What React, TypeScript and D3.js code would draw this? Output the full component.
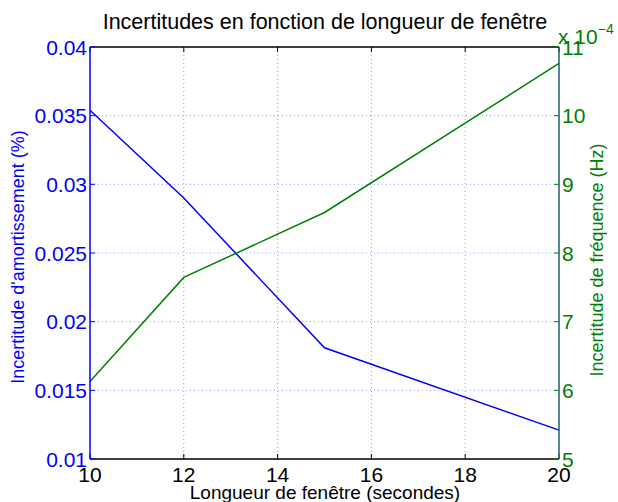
import React from "react";
import * as d3 from "d3";

const windowLengths = [10, 12, 15, 20];
const dampingUncertainty = [0.0354, 0.029, 0.0181, 0.0121];
const freqUncertainty = [6.13, 7.645, 8.59, 10.76];

const xTicks = [10, 12, 14, 16, 18, 20];
const leftTicks = [0.01, 0.015, 0.02, 0.025, 0.03, 0.035, 0.04];
const leftTickLabels = ["0.01", "0.015", "0.02", "0.025", "0.03", "0.035", "0.04"];
const rightTicks = [5, 6, 7, 8, 9, 10, 11];

const W = 618;
const H = 502;
const L = 90, R = 559, T = 47, B = 459;
const FONT = "'Liberation Sans', Arial, Helvetica, sans-serif";
const BLUE = "#0000ff";
const GREEN = "#008000";
const RAXIS = "#1d5b7a";

export default function App() {
  const x = d3.scaleLinear().domain([10, 20]).range([L, R]);
  const yl = d3.scaleLinear().domain([0.01, 0.04]).range([B, T]);
  const yr = d3.scaleLinear().domain([5, 11]).range([B, T]);

  const lineL = d3.line<number>().x((_, i) => x(windowLengths[i])).y((d) => yl(d));
  const lineR = d3.line<number>().x((_, i) => x(windowLengths[i])).y((d) => yr(d));

  return (
    <svg width={W} height={H} style={{ position: "absolute", left: 0, top: 0, background: "#fff" }}>
      <rect x={0} y={0} width={W} height={H} fill="#fff" />
      {/* vertical grid */}
      {xTicks.slice(1, -1).map((t) => (
        <line key={"gx" + t} x1={x(t)} x2={x(t)} y1={T} y2={B} stroke="#a0a0a0" strokeWidth={1} strokeDasharray="1,3" />
      ))}
      {/* horizontal grid */}
      {leftTicks.slice(1, -1).map((t) => (
        <line key={"gy" + t} x1={L} x2={R} y1={yl(t)} y2={yl(t)} stroke="#9a9aff" strokeWidth={1} strokeDasharray="1,3" />
      ))}
      {/* data */}
      <path d={lineL(dampingUncertainty) || ""} fill="none" stroke={BLUE} strokeWidth={1.5} />
      <path d={lineR(freqUncertainty) || ""} fill="none" stroke={GREEN} strokeWidth={1.5} />
      {/* box */}
      <line x1={L} x2={R} y1={T} y2={T} stroke="#000" strokeWidth={1.5} />
      <line x1={L} x2={R} y1={B} y2={B} stroke="#000" strokeWidth={1.5} />
      {/* x ticks */}
      {xTicks.map((t) => (
        <g key={"xt" + t}>
          <line x1={x(t)} x2={x(t)} y1={B} y2={B - 5} stroke="#000" strokeWidth={1} />
          <line x1={x(t)} x2={x(t)} y1={T} y2={T + 5} stroke="#000" strokeWidth={1} />
          <text x={x(t)} y={482} textAnchor="middle" fontFamily={FONT} fontSize={21} fill="#000">
            {t}
          </text>
        </g>
      ))}
      {/* left axis */}
      <line x1={L} x2={L} y1={T} y2={B} stroke={BLUE} strokeWidth={1.5} />
      {leftTicks.map((t, i) => (
        <g key={"lt" + t}>
          <line x1={L} x2={L + 5} y1={yl(t)} y2={yl(t)} stroke={BLUE} strokeWidth={1} />
          <text x={L - 3} y={yl(t) + 7.5} textAnchor="end" fontFamily={FONT} fontSize={21} fill={BLUE}>
            {leftTickLabels[i]}
          </text>
        </g>
      ))}
      {/* right axis */}
      <line x1={R} x2={R} y1={T} y2={B} stroke={RAXIS} strokeWidth={1.5} />
      {rightTicks.map((t) => (
        <g key={"rt" + t}>
          <line x1={R} x2={R - 5} y1={yr(t)} y2={yr(t)} stroke={GREEN} strokeWidth={1} />
          <text x={R + 3} y={yr(t) + 7.5} textAnchor="start" fontFamily={FONT} fontSize={21} fill={GREEN}>
            {t}
          </text>
        </g>
      ))}
      <text x={558} y={44} fontFamily={FONT} fontSize={21} fill={GREEN}>
        x 10
        <tspan dy={-10} fontSize={14}>−4</tspan>
      </text>
      {/* title */}
      <text x={325} y={29} textAnchor="middle" fontFamily={FONT} fontSize={21.5} fill="#000">
        Incertitudes en fonction de longueur de fenêtre
      </text>
      {/* x label */}
      <text x={325} y={499} textAnchor="middle" fontFamily={FONT} fontSize={19} fill="#000">
        Longueur de fenêtre (secondes)
      </text>
      {/* y labels */}
      <text transform={`translate(24,257) rotate(-90)`} textAnchor="middle" fontFamily={FONT} fontSize={18} fill={BLUE}>
        Incertitude d'amortissement (%)
      </text>
      <text transform={`translate(603,260) rotate(-90)`} textAnchor="middle" fontFamily={FONT} fontSize={18} fill={GREEN}>
        Incertitude de fréquence (Hz)
      </text>
    </svg>
  );
}
